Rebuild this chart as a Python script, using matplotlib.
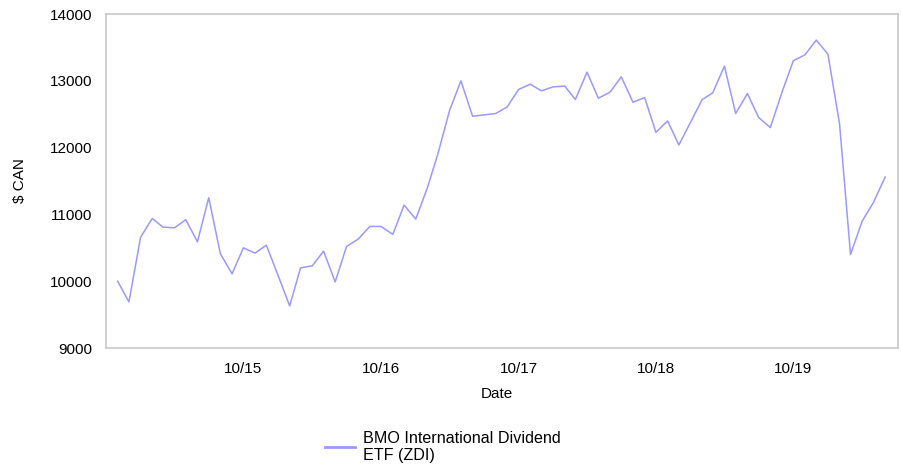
import matplotlib
matplotlib.use("Agg")
import matplotlib.pyplot as plt
import matplotlib.dates as mdates
import pandas as pd

plt.rcParams['font.family'] = ['Liberation Sans', 'DejaVu Sans']

# Monthly values, 11/14 to 06/20
dates = pd.date_range("2014-11-01", "2020-06-01", freq="MS")
values = [
    10000, 9690, 10660, 10940, 10810, 10800, 10920, 10590, 11250, 10410,
    10110, 10500, 10420, 10540, 10090, 9630, 10200, 10230, 10450, 9990,
    10520, 10630, 10820, 10820, 10700, 11140, 10930, 11400, 11910, 12560,
    13000, 12470, 12490, 12510, 12610, 12870, 12950, 12850, 12910, 12920,
    12720, 13130, 12740, 12830, 13060, 12680, 12750, 12230, 12400, 12040,
    12380, 12720, 12820, 13220, 12510, 12810, 12450, 12300, 12830, 13300,
    13390, 13610, 13400, 12350, 10400, 10900, 11180, 11560,
]
series_label = "BMO International Dividend\nETF (ZDI)"
tick_dates = pd.to_datetime(["2015-10-01", "2016-10-01", "2017-10-01",
                             "2018-10-01", "2019-10-01"])
y_ticks = [9000, 10000, 11000, 12000, 13000, 14000]

fs = 11

fig = plt.figure(figsize=(9.02, 4.68), dpi=100)
ax = fig.add_axes([0.1175, 0.2564, 0.878, 0.7136])

ax.plot(dates, values, color="#9999ff", linewidth=1.1, label=series_label)

ax.set_xlim(pd.Timestamp("2014-10-01"), pd.Timestamp("2020-07-05"))
ax.set_ylim(9000, 14000)
ax.set_yticks(y_ticks)
ax.set_xticks(tick_dates)
ax.xaxis.set_major_formatter(mdates.DateFormatter("%m/%y"))
ax.tick_params(length=0, labelsize=fs, colors="#000000")
ax.tick_params(axis="x", pad=10)
ax.tick_params(axis="y", pad=10)

for s in ax.spines.values():
    s.set_color("#c8c8c8")
    s.set_linewidth(1.2)

ax.set_xlabel("Date", fontsize=fs)
ax.set_ylabel(r"\$ CAN", fontsize=fs)
ax.xaxis.set_label_coords(0.494, -0.117)
ax.yaxis.set_label_coords(-0.0996, 0.5)

leg = fig.legend(loc="center", bbox_to_anchor=(0.491, 0.045), frameon=False,
                 fontsize=11.6, handlelength=1.85, handletextpad=0.45)
for h in leg.get_lines():
    h.set_linewidth(2)

fig.savefig("out.png", dpi=100)
